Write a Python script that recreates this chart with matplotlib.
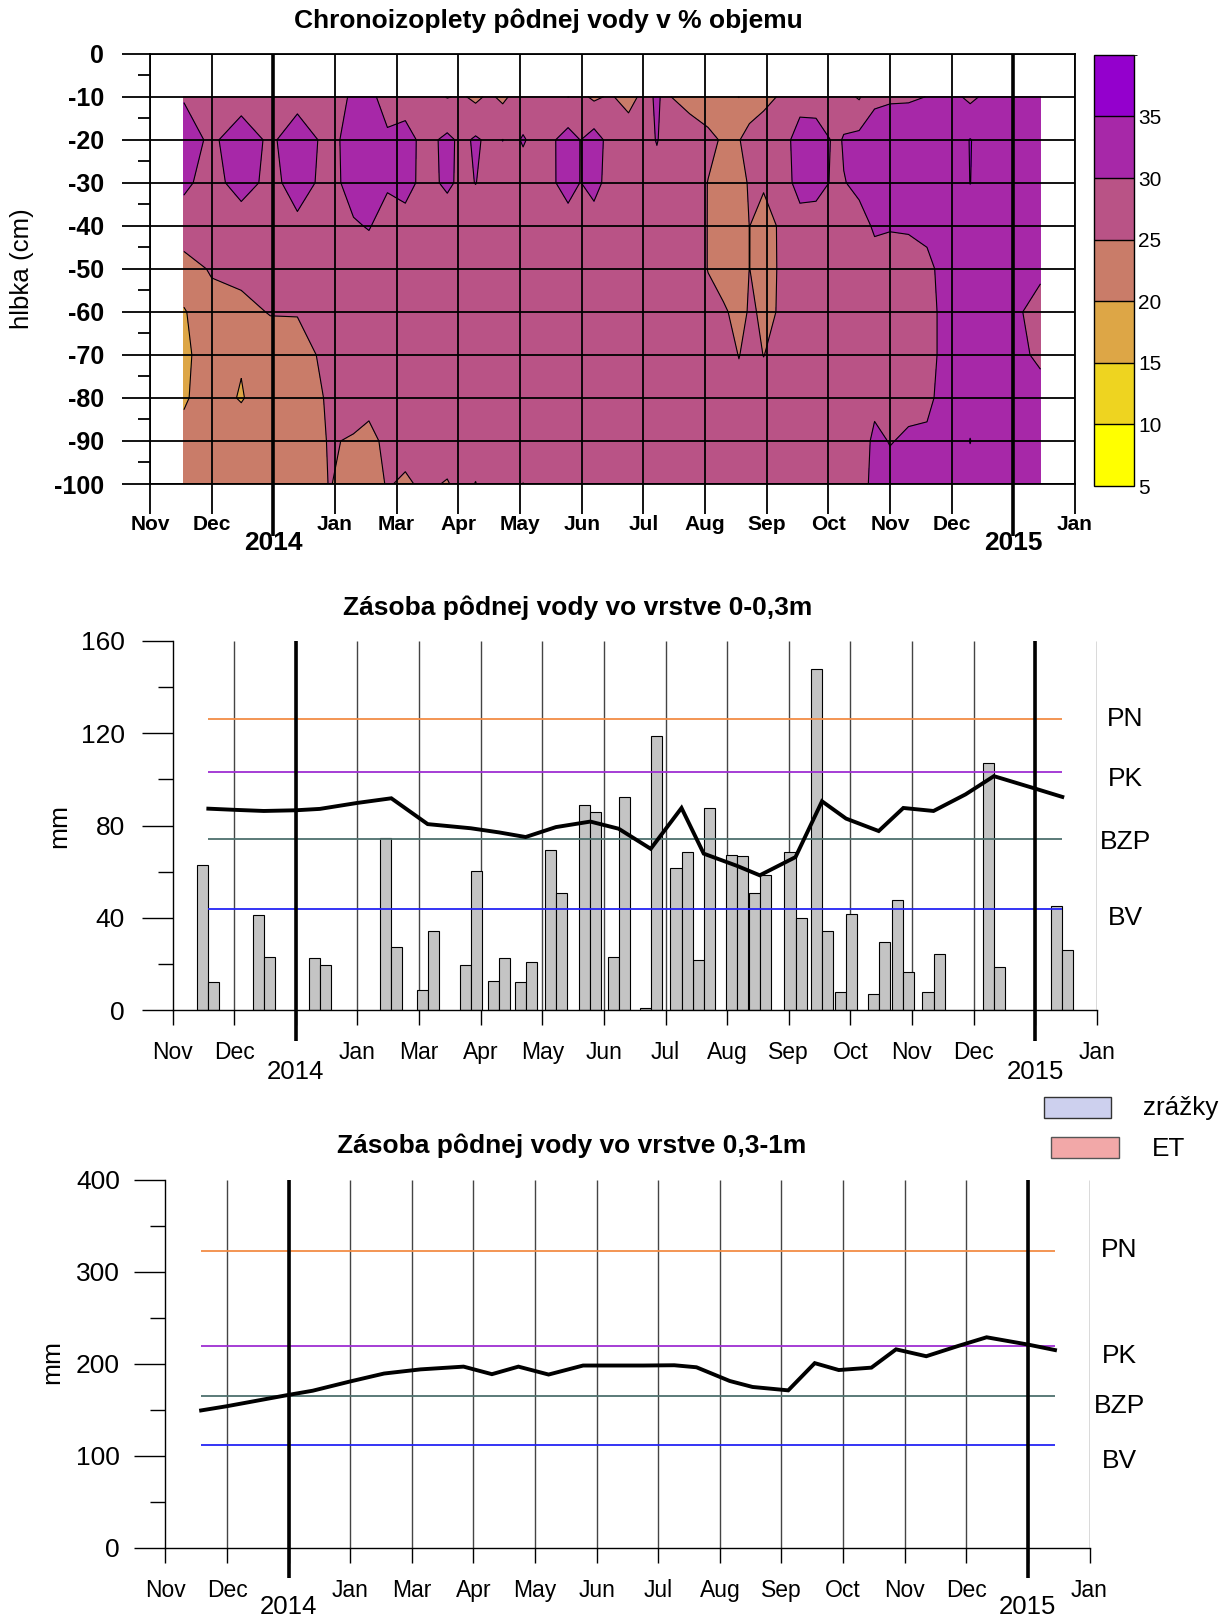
import numpy as np
import matplotlib
matplotlib.use("Agg")
import matplotlib.pyplot as plt
from matplotlib.colors import ListedColormap, BoundaryNorm
from matplotlib.cm import ScalarMappable
from matplotlib.patches import Rectangle

plt.rcParams["font.family"] = ["Liberation Sans", "DejaVu Sans"]

# time axis in months counted from 1 Nov 2013, ticks equally spaced
month_ticks = list(range(16))
month_labels = ["Nov", "Dec", "", "Jan", "Mar", "Apr", "May", "Jun", "Jul",
                "Aug", "Sep", "Oct", "Nov", "Dec", "", "Jan"]
year_ticks = [2, 14]
year_labels = ["2014", "2015"]

# soil moisture (% vol) -- one profile per date, depths -10 .. -100 cm
iso_depth = [-10, -20, -30, -40, -50, -60, -70, -80, -90, -100]
iso_time = [0.55, 1.0, 1.48, 1.95, 2.39, 2.92, 3.3, 3.55, 3.85, 4.14,
            4.45, 4.82, 5.06, 5.28, 5.5, 5.72, 5.88, 6.05, 6.3, 6.55,
            6.78, 6.98, 7.2, 7.45, 7.76, 7.98, 8.22, 8.45, 8.75, 9.05,
            9.3, 9.55, 9.72, 9.95, 10.2, 10.54, 10.8, 11.15, 11.25, 11.5,
            11.75, 12.0, 12.3, 12.6, 12.85, 13.1, 13.3, 13.55, 14.0, 14.44]
iso_profiles = [
    [29.6, 32.5, 31.0, 27.5, 23.3, 19.6, 19.4, 19.7, 20.8, 21.5],
    [28.0, 29.0, 28.0, 27.0, 25.4, 23.5, 21.5, 21.3, 22.0, 22.5],
    [27.6, 33.0, 32.3, 27.0, 26.5, 23.5, 20.3, 19.75, 22.0, 22.5],
    [28.0, 29.0, 28.5, 27.2, 27.5, 25.3, 22.0, 22.0, 22.5, 22.8],
    [28.0, 33.0, 32.0, 29.0, 27.5, 25.2, 23.5, 23.0, 23.0, 23.5],
    [28.5, 28.2, 28.3, 27.5, 27.5, 27.0, 26.1, 25.5, 25.25, 25.1],
    [30.5, 32.5, 32.0, 29.5, 27.5, 27.5, 27.5, 26.5, 24.7, 24.0],
    [31.0, 33.5, 33.0, 30.3, 27.5, 27.5, 27.2, 25.8, 24.3, 23.8],
    [28.5, 30.6, 30.6, 28.0, 27.5, 27.5, 27.5, 26.8, 25.6, 25.2],
    [27.5, 32.0, 31.8, 28.0, 27.5, 27.5, 27.3, 26.8, 26.0, 24.6],
    [27.5, 28.5, 28.5, 27.5, 27.5, 27.5, 27.5, 27.0, 26.3, 25.5],
    [24.8, 31.0, 30.8, 27.5, 27.5, 27.5, 27.5, 27.2, 26.5, 24.8],
    [25.5, 29.0, 29.0, 27.5, 27.5, 27.5, 27.5, 27.5, 27.0, 26.0],
    [24.0, 30.6, 30.1, 27.5, 27.5, 27.5, 27.5, 27.3, 26.6, 24.9],
    [25.8, 29.1, 28.5, 27.5, 27.5, 27.5, 27.5, 27.5, 27.0, 26.5],
    [24.0, 30.05, 28.5, 27.5, 27.5, 27.5, 27.5, 27.5, 27.0, 26.5],
    [25.8, 29.0, 28.5, 27.5, 27.5, 27.5, 27.5, 27.5, 27.0, 26.0],
    [27.0, 30.4, 28.0, 27.5, 27.5, 27.5, 27.5, 27.5, 26.8, 24.95],
    [27.5, 28.4, 28.2, 27.5, 27.5, 27.5, 27.5, 27.5, 27.2, 26.5],
    [27.5, 29.7, 29.7, 27.5, 27.5, 27.5, 27.5, 27.5, 27.3, 26.5],
    [24.9, 32.0, 31.8, 28.0, 27.5, 27.5, 27.5, 27.5, 27.3, 27.0],
    [26.0, 29.9, 29.9, 27.8, 27.5, 27.5, 27.5, 27.5, 27.5, 27.0],
    [24.2, 32.0, 31.5, 28.0, 27.5, 27.5, 27.5, 27.5, 27.5, 27.0],
    [25.5, 28.7, 28.5, 27.5, 27.5, 27.5, 27.5, 27.5, 27.5, 27.5],
    [23.5, 27.5, 27.5, 27.5, 27.5, 27.5, 27.5, 27.5, 27.5, 27.5],
    [25.8, 27.5, 27.5, 27.5, 27.5, 27.5, 27.5, 27.5, 27.5, 27.5],
    [31.5, 30.3, 28.0, 27.5, 27.5, 27.5, 27.5, 27.5, 27.5, 27.5],
    [25.0, 27.0, 27.5, 27.5, 27.5, 27.5, 27.5, 27.5, 27.5, 27.5],
    [23.5, 27.3, 27.3, 27.0, 27.0, 27.3, 27.5, 27.5, 27.5, 27.5],
    [22.5, 26.0, 24.9, 24.9, 24.9, 26.0, 27.0, 27.5, 27.5, 27.5],
    [21.5, 24.5, 24.0, 23.8, 24.0, 25.3, 26.5, 27.5, 27.5, 27.5],
    [19.9, 24.8, 24.3, 24.0, 24.0, 24.3, 24.9, 26.0, 27.5, 27.5],
    [22.5, 26.5, 25.2, 25.02, 25.02, 25.2, 26.0, 27.0, 27.5, 27.5],
    [24.0, 27.0, 25.15, 24.5, 24.4, 24.8, 24.95, 26.0, 27.5, 27.5],
    [25.2, 27.5, 27.0, 25.1, 25.1, 25.05, 25.8, 27.5, 27.5, 27.5],
    [28.2, 32.0, 31.8, 28.0, 27.5, 27.5, 27.5, 27.5, 27.5, 27.5],
    [28.0, 32.0, 31.5, 28.0, 27.5, 27.5, 27.5, 27.5, 27.5, 27.5],
    [27.5, 29.0, 29.0, 27.5, 27.5, 27.5, 27.5, 27.5, 27.5, 27.5],
    [26.5, 30.5, 29.8, 27.5, 27.5, 27.5, 27.5, 27.5, 27.5, 27.5],
    [24.5, 31.5, 31.0, 28.5, 27.5, 27.5, 27.5, 27.5, 27.5, 27.8],
    [29.2, 32.0, 31.8, 30.5, 28.5, 27.5, 27.5, 28.8, 31.0, 31.5],
    [29.5, 32.5, 32.5, 30.4, 27.5, 27.0, 27.0, 27.5, 29.8, 31.5],
    [29.5, 33.0, 33.0, 30.5, 28.0, 27.0, 27.0, 28.8, 30.6, 32.0],
    [30.05, 33.0, 33.0, 31.0, 29.0, 28.5, 28.5, 29.0, 30.8, 32.0],
    [31.0, 33.0, 33.0, 32.0, 31.0, 30.8, 30.8, 31.2, 32.5, 33.0],
    [30.5, 33.5, 33.5, 33.0, 32.5, 32.5, 32.5, 33.0, 33.5, 33.0],
    [29.0, 35.15, 35.05, 33.5, 33.0, 33.0, 33.0, 33.5, 35.1, 33.5],
    [30.8, 33.5, 33.5, 33.0, 32.5, 32.5, 32.5, 33.0, 33.0, 33.0],
    [31.0, 33.0, 33.0, 32.0, 31.5, 30.8, 30.8, 31.5, 32.0, 32.0],
    [31.0, 33.0, 33.0, 32.0, 30.8, 28.5, 29.5, 31.0, 32.0, 32.0],
]

levels = [5, 10, 15, 20, 25, 30, 35, 40]
level_colors = ["#FFFF00", "#EED420", "#DDA646", "#C97C69",
                "#B95386", "#A728A8", "#9400CD"]

# precipitation / ET bars, paired around each date
bar_dates = [0.58, 1.48, 2.39, 3.55, 4.14, 4.84, 5.30, 5.73, 6.22, 6.78,
             7.24, 7.76, 8.26, 8.62, 9.16, 9.53, 10.11, 10.54, 10.93, 11.46,
             11.86, 12.35, 13.33, 14.44]
zrazky = [62.7, 41.3, 22.4, 74.7, 8.8, 19.7, 12.6, 12.0, 69.5, 89.0,
          22.9, 1.0, 61.7, 21.7, 67.3, 50.8, 68.5, 147.7, 8.0, 6.9,
          47.8, 7.7, 106.9, 45.2]
et = [12.3, 22.9, 19.5, 27.4, 34.3, 60.4, 22.4, 20.9, 50.8, 86.0,
      92.2, 118.7, 68.5, 87.8, 66.6, 58.4, 40.0, 34.2, 41.8, 29.7,
      16.5, 24.3, 18.5, 26.2]

# water storage (mm)
line_dates = [0.58, 1.0, 1.48, 2.0, 2.39, 3.0, 3.55, 4.14, 4.84, 5.30,
              5.73, 6.22, 6.78, 7.24, 7.76, 8.26, 8.62, 9.16, 9.53, 10.11,
              10.54, 10.93, 11.46, 11.86, 12.35, 12.87, 13.33, 14.0, 14.44]
storage_top = [87.3, 86.8, 86.3, 86.6, 87.2, 89.8, 91.8, 80.6, 78.8, 77.0,
               75.0, 79.3, 81.7, 78.6, 69.9, 87.6, 67.8, 62.5, 58.4, 66.3,
               90.5, 83.0, 77.6, 87.6, 86.3, 93.5, 101.4, 96.0, 92.4]
storage_bottom = [149.0, 153.6, 159.5, 165.9, 170.4, 180.5, 189.1, 193.6, 196.6, 188.4,
                  196.6, 188.0, 197.8, 197.8, 197.8, 198.1, 195.9, 181.0, 174.5, 170.8,
                  200.4, 192.9, 195.5, 215.4, 207.9, 219.1, 228.5, 220.6, 214.6]

limit_names = ["PN", "PK", "BZP", "BV"]
limits_top = [126, 103, 74, 44]
limits_bottom = [322, 219, 165, 111]
limit_colors = ["#F28C45", "#9E2ED2", "#4D6F6D", "#2424F5"]
limit_span = (0.58, 14.44)

W, H = 1226, 1621
fig = plt.figure(figsize=(W / 100, H / 100), dpi=100)


def px_axes(left, right, top, bottom):
    return fig.add_axes([left / W, 1 - bottom / H, (right - left) / W, (bottom - top) / H])


def month_axis_labels(ax, y_month, y_year, size, year_size, weight="normal"):
    tr = ax.get_xaxis_transform()
    for m, lab in zip(month_ticks, month_labels):
        ax.text(m, y_month, lab, transform=tr, ha="center", va="center",
                fontsize=size, fontweight=weight)
    for m, lab in zip(year_ticks, year_labels):
        ax.text(m, y_year, lab, transform=tr, ha="center", va="center",
                fontsize=year_size, fontweight=weight)


# ---- chronoisopleths ----
ax1 = px_axes(150, 1075, 53.7, 484)
Z = np.array(iso_profiles).T
ax1.contourf(iso_time, iso_depth, Z, levels=levels, colors=level_colors)
ax1.contour(iso_time, iso_depth, Z, levels=levels[1:-1], colors="black", linewidths=0.8)
ax1.set_xlim(0, 15)
ax1.set_ylim(-100, 0)
ax1.set_yticks(range(-100, 1, 10))
ax1.set_yticklabels([str(v) for v in range(-100, 1, 10)], fontsize=18, fontweight="bold")
ax1.set_yticks(range(-95, 0, 10), minor=True)
ax1.tick_params(axis="y", which="major", length=20, width=1.3, pad=13)
ax1.tick_params(axis="y", which="minor", length=9, width=1.3)
ax1.set_xticks(month_ticks)
ax1.set_xticklabels([])
ax1.tick_params(axis="x", length=21.5, width=1.3)
ax1.grid(True, color="black", linewidth=1.3)
ax1.set_axisbelow(False)
for s in ax1.spines.values():
    s.set_linewidth(1.3)
ax1.vlines(year_ticks, -112, 0, color="black", linewidth=2.6, clip_on=False, zorder=5)
month_axis_labels(ax1, -0.093, -0.137, 15, 19, weight="bold")
ax1.text(-0.138, 0.5, "hlbka (cm)", transform=ax1.transAxes, rotation=90,
         ha="center", va="center", fontsize=18.6)
fig.text(548 / W, 1 - 21 / H, "Chronoizoplety pôdnej vody v % objemu",
         ha="center", va="center", fontsize=19, fontweight="bold")

cax = px_axes(1094, 1134, 54.8, 486)
cmap = ListedColormap(level_colors)
norm = BoundaryNorm(levels, cmap.N)
cb = fig.colorbar(ScalarMappable(norm=norm, cmap=cmap), cax=cax,
                  ticks=levels[:-1], drawedges=True)
cb.outline.set_linewidth(1.0)
cb.dividers.set_linewidth(1.0)
cax.tick_params(length=0, pad=3, labelsize=15)


def storage_axes(ax, ymax, major, minor, line_values, limits, label_y, label_x, tick_pad):
    ax.set_xlim(0, 15)
    ax.set_ylim(0, ymax)
    ax.spines["top"].set_visible(False)
    ax.spines["right"].set_visible(False)
    ax.spines["left"].set_linewidth(1.0)
    ax.spines["bottom"].set_linewidth(1.0)
    ax.vlines(month_ticks[1:], 0, ymax, color="#444444", linewidth=1.0, zorder=1)
    ax.set_yticks(major)
    ax.set_yticklabels([str(v) for v in major], fontsize=19)
    ax.set_yticks(minor, minor=True)
    ax.tick_params(axis="y", which="major", length=22, width=1.0, pad=tick_pad)
    ax.tick_params(axis="y", which="minor", length=11, width=1.0)
    ax.set_xticks(month_ticks)
    ax.set_xticklabels([])
    ax.tick_params(axis="x", length=11, width=1.0)
    ax.hlines(limits, *limit_span, colors=limit_colors, linewidth=1.3, zorder=3)
    ax.plot(line_dates, line_values, color="black", linewidth=2.8, zorder=4,
            solid_joinstyle="miter")
    ax.vlines(year_ticks, -ymax * 0.084, ymax, color="black", linewidth=2.6,
              clip_on=False, zorder=3.5)
    for name, y in zip(limit_names, label_y):
        ax.text(label_x, y, name, ha="center", va="center", fontsize=19, clip_on=False)


# ---- 0-0.3 m layer ----
ax2 = px_axes(172.6, 1096.8, 641, 1010)
bw = 0.18
bd = np.array(bar_dates)
ax2.bar(bd - bw / 2, zrazky, width=bw, color="#c4c4c4", edgecolor="black", linewidth=0.8, zorder=2)
ax2.bar(bd + bw / 2, et, width=bw, color="#c4c4c4", edgecolor="black", linewidth=0.8, zorder=2)
storage_axes(ax2, 160, range(0, 161, 40), range(20, 160, 40), storage_top,
             limits_top, [126, 100, 73, 40], 15.46, 12.2)
month_axis_labels(ax2, -0.114, -0.168, 16.5, 18.5)
ax2.text(-0.123, 0.5, "mm", transform=ax2.transAxes, rotation=90,
         ha="center", va="center", fontsize=19)
fig.text(578 / W, 1 - 608 / H, "Zásoba pôdnej vody vo vrstve 0-0,3m",
         ha="center", va="center", fontsize=19, fontweight="bold")

# legend
fig.add_artist(Rectangle((1044 / W, 1 - 1117.5 / H), 67 / W, 20.5 / H,
                         transform=fig.transFigure, facecolor="#cdd0ee",
                         edgecolor="#333333", linewidth=1.0))
fig.add_artist(Rectangle((1051 / W, 1 - 1158 / H), 68 / W, 21 / H,
                         transform=fig.transFigure, facecolor="#f2a8a8",
                         edgecolor="#555555", linewidth=1.0))
fig.text(1143 / W, 1 - 1108 / H, "zrážky", ha="left", va="center", fontsize=18.8)
fig.text(1152 / W, 1 - 1149 / H, "ET", ha="left", va="center", fontsize=18.8)

# ---- 0.3-1 m layer ----
ax3 = px_axes(165.4, 1089.5, 1179.5, 1547.5)
storage_axes(ax3, 400, range(0, 401, 100), range(50, 400, 100), storage_bottom,
             limits_bottom, [323, 208, 154, 94], 15.48, 10.8)
month_axis_labels(ax3, -0.1155, -0.163, 16.5, 18.5)
ax3.text(-0.1227, 0.504, "mm", transform=ax3.transAxes, rotation=90,
         ha="center", va="center", fontsize=19)
fig.text(572 / W, 1 - 1146 / H, "Zásoba pôdnej vody vo vrstve 0,3-1m",
         ha="center", va="center", fontsize=19, fontweight="bold")

fig.savefig("out.png", dpi=100)
